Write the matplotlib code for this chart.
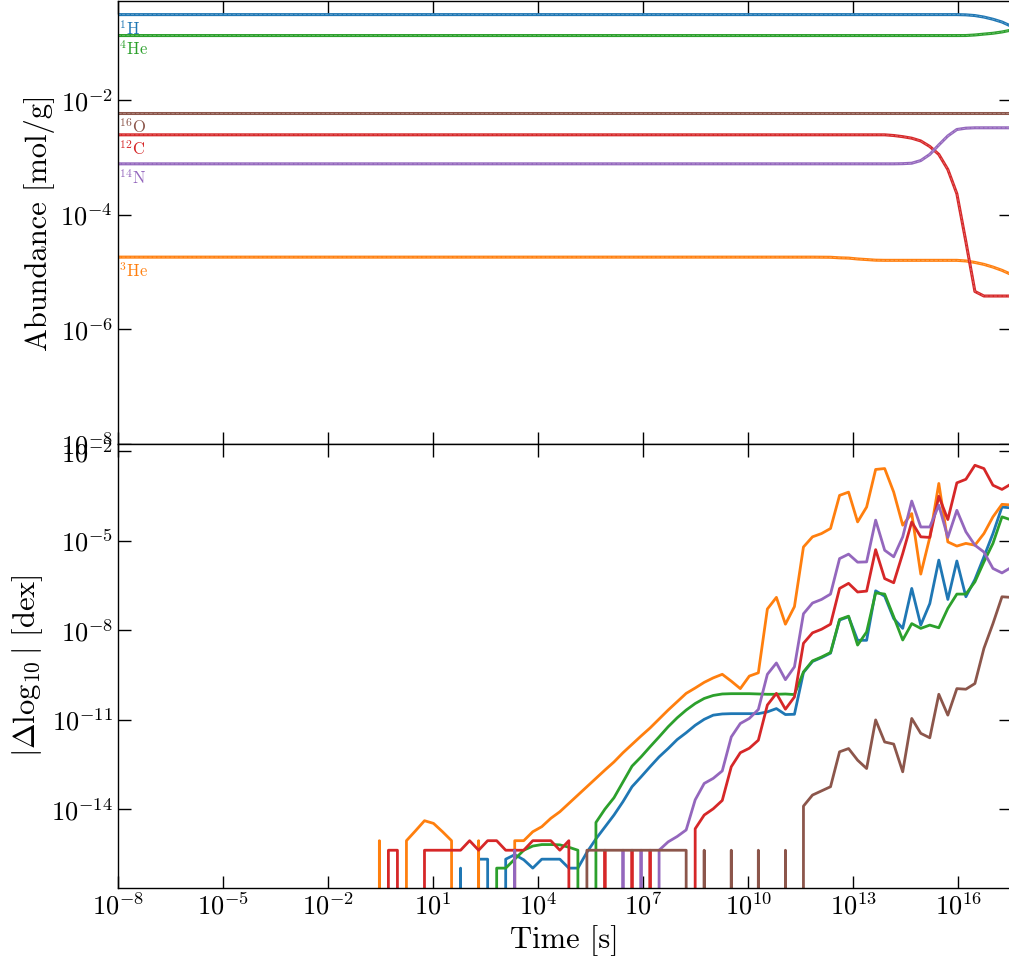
import matplotlib
matplotlib.use("Agg")
import matplotlib.pyplot as plt
import numpy as np
from matplotlib.ticker import NullLocator

# time grid of the network run (log-spaced, 100 steps up to ~10 Gyr)
time = np.logspace(-8, 17.5, 100)

species = ["H", "He3", "He4", "C12", "N14", "O16"]
labels = [r"$^{1}$H", r"$^{3}$He", r"$^{4}$He", r"$^{12}$C", r"$^{14}$N", r"$^{16}$O"]
colors = ["C0", "C1", "C2", "C3", "C4", "C5"]

# abundances [mol/g], constant until the late-time burning
abund_H = [0.318] * 94 + [0.315, 0.306, 0.288, 0.264, 0.236, 0.200]
abund_He3 = ([1.82e-5] * 78 + [1.815e-5, 1.81e-5, 1.77e-5, 1.75e-5, 1.69e-5, 1.65e-5, 1.61e-5]
             + [1.60e-5] * 9 + [1.56e-5, 1.47e-5, 1.36e-5, 1.22e-5, 1.07e-5, 9.1e-6])
abund_He4 = [0.1368] * 94 + [0.137, 0.140, 0.145, 0.150, 0.158, 0.170]
abund_C12 = ([2.51e-3] * 86 + [2.44e-3, 2.33e-3, 2.19e-3, 1.96e-3, 1.57e-3, 1.14e-3,
             6.2e-4, 2.34e-4, 3.39e-5, 4.57e-6] + [3.80e-6] * 4)
abund_N14 = ([7.8e-4] * 87 + [7.85e-4, 8.0e-4, 8.9e-4, 1.14e-3, 1.67e-3, 2.40e-3,
             3.11e-3, 3.28e-3] + [3.33e-3] * 5)
abund_O16 = [6.0e-3] * 100

# |delta log10| between the two runs, given as log10 values (None = exactly zero)
A, B, C, D = -15.06, -15.38, -15.68, -15.98
dlog_H = [None] * 38 + [
    D, None, C, C, None, C, -15.53, -15.70, D, C, C, C, D, D,
    -15.45, -15.00, -14.60, -14.20, -13.75, -13.25, -12.92, -12.58, -12.25, -11.97,
    -11.67, -11.44, -11.19, -10.99, -10.85, -10.81, -10.80, -10.80, -10.80, -10.80,
    -10.74, -10.63, -10.83, -10.82, -9.42, -9.05, -8.92, -8.77, -7.66, -7.55,
    -8.34, -8.34, -6.68, -6.86, -7.61, -7.94, -6.60, -7.83, -7.11, -5.65,
    -6.97, -5.68, -6.88, -6.30, -5.54, -4.76, -3.87, -3.90]
dlog_He3 = [None] * 29 + [
    A, None, None, A, -14.73, -14.39, -14.48, -14.76, A, None, None, A, None, None, None,
    A, A, -14.76, -14.59, -14.31, -14.09, -13.81, -13.53, -13.25, -12.97,
    -12.69, -12.42, -12.11, -11.83, -11.55, -11.28, -10.98, -10.68, -10.40, -10.12,
    -9.94, -9.75, -9.60, -9.48, -9.71, -9.96, -9.54, -9.43, -7.29, -6.90,
    -7.80, -7.21, -5.21, -4.87, -4.76, -4.59, -3.48, -3.37, -4.37, -3.87,
    -2.61, -2.58, -3.37, -4.48, -4.09, -6.12, -4.89, -3.08, -5.04, -5.18,
    -5.09, -5.15, -4.76, -4.20, -3.78, -3.80]
dlog_He4 = [None] * 42 + [
    D, D, C, -15.38, -15.24, -15.19, -15.19, -15.20, -15.28, -15.38, None,
    -14.45, -14.00, -13.62, -13.09, -12.56, -12.25, -11.91, -11.58, -11.24, -10.94,
    -10.68, -10.46, -10.29, -10.19, -10.14, -10.13, -10.13, -10.13, -10.14, -10.15,
    -10.15, -10.14, -10.16, -9.40, -9.03, -8.90, -8.75, -7.64, -7.53, -8.50,
    -8.06, -6.75, -6.79, -7.55, -8.33, -7.78, -7.94, -7.83, -7.92, -7.27,
    -6.79, -6.79, -6.38, -5.71, -5.09, -4.20, -4.30]
dlog_C12 = [None] * 30 + [
    B, B, None, None, B, B, B, B, B, A, B, A, A, B, B, B, A, A, A, B, A,
    None, None, None, B, None, None, B, None, B, None, None, None, None,
    -14.66, -14.20, -13.99, -13.71, -12.58, -12.11, -11.96, -11.69, -10.51, -10.12,
    -10.65, -10.24, -8.44, -8.09, -7.97, -7.80, -6.60, -6.43, -6.72, -6.69,
    -5.30, -6.27, -6.41, -5.43, -4.37, -4.87, -4.89, -3.51, -4.29, -3.06,
    -2.94, -2.47, -2.58, -3.14, -3.28, -3.10]
dlog_N14 = [None] * 44 + [
    B] + [None] * 11 + [B, None, B, None, B,
    -15.10, -14.92, -14.70, -13.69, -13.14, -12.97, -12.72, -11.58, -11.13, -10.96,
    -10.66, -9.48, -9.10, -9.66, -9.23, -7.45, -7.09, -6.97, -6.79, -5.60,
    -5.45, -5.72, -5.71, -4.31, -5.32, -5.54, -4.87, -3.67, -4.54, -4.54,
    -3.81, -4.89, -3.98, -4.70, -5.15, -5.38, -5.93, -6.08, -5.90]
dlog_O16 = [None] * 52 + [B] * 12 + [
    None, B, None, None, B, None, None, B, None, None, B, None,
    -13.90, -13.53, -13.39, -13.25, -12.08, -11.97, -12.36, -12.64, -11.01, -11.75,
    -11.82, -12.75, -10.96, -11.46, -11.61, -10.15, -10.85, -9.96, -9.98, -9.79,
    -8.61, -7.78, -6.88, -6.90]

abundances = [abund_H, abund_He3, abund_He4, abund_C12, abund_N14, abund_O16]
dlogs = [dlog_H, dlog_He3, dlog_He4, dlog_C12, dlog_N14, dlog_O16]

plt.rcParams.update({
    "font.family": "serif",
    "font.serif": ["cmr10", "DejaVu Serif"],
    "mathtext.fontset": "cm",
    "axes.formatter.use_mathtext": True,
    "axes.unicode_minus": False,
    "axes.linewidth": 1.0,
})

fig = plt.figure(figsize=(10.09, 9.65), dpi=100)
ax_top = fig.add_axes([0.11665, 0.54041, 0.88533, 0.45855])
ax_bot = fig.add_axes([0.11665, 0.08031, 0.88533, 0.46010])

for ab, lab, c in zip(abundances, labels, colors):
    ax_top.plot(time, ab, color=c, lw=2.2)
    # second run drawn dashed on top, barely visible
    ax_top.plot(time, ab, color="w", ls="--", lw=0.6, alpha=0.3)
    ax_top.annotate(lab, xy=(time[0], ab[0]), xytext=(1, -3), textcoords="offset points",
                    ha="left", va="top", color=c, fontsize=12)

for d, c in zip(dlogs, colors):
    vals = np.array([0.0 if v is None else 10.0 ** v for v in d])
    ax_bot.plot(time, vals, color=c, lw=2)

for ax in (ax_top, ax_bot):
    ax.set_xscale("log")
    ax.set_yscale("log")
    ax.set_xlim(1e-8, 10 ** 17.5)
    ax.set_xticks([10.0 ** e for e in range(-8, 17, 3)])
    ax.xaxis.set_minor_locator(NullLocator())
    ax.yaxis.set_minor_locator(NullLocator())
    ax.tick_params(which="both", direction="in", top=True, right=True,
                   length=9, width=1, labelsize=19)

ax_top.set_ylim(1e-8, 0.55)
ax_top.set_yticks([1e-8, 1e-6, 1e-4, 1e-2])
ax_top.tick_params(labelbottom=False)
ax_top.set_ylabel("Abundance [mol/g]", fontsize=22)

ax_bot.set_ylim(10 ** -16.63, 10 ** -1.74)
ax_bot.set_yticks([1e-14, 1e-11, 1e-8, 1e-5, 1e-2])
ax_bot.set_ylabel(r"$|\Delta\log_{10}|$ [dex]", fontsize=22)
ax_bot.set_xlabel("Time [s]", fontsize=22)

fig.savefig("out.png", dpi=100)
